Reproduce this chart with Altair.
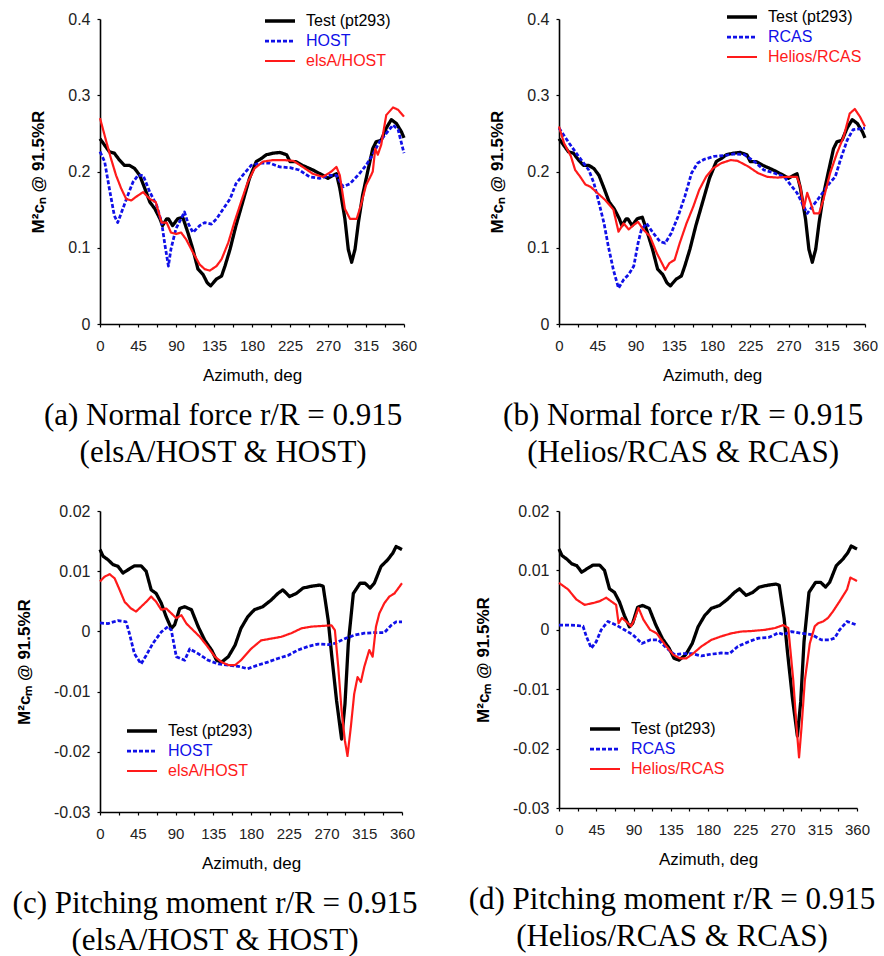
import altair as alt
import pandas as pd

# ---------------- data (azimuth deg, value) ----------------
cn_test = [(0,0.243),(11,0.226),(17,0.224),(23,0.215),(29,0.208),(35,0.208),(41,0.204),(47,0.195),(53,0.178),(59,0.160),(65,0.151),(71,0.138),(74,0.129),(79,0.138),(81,0.138),(86,0.129),(92,0.138),(98,0.140),(104,0.120),(110,0.098),(116,0.072),(122,0.065),(127,0.054),(131,0.050),(138,0.059),(144,0.063),(148,0.076),(154,0.098),(161,0.129),(169,0.160),(177,0.191),(185,0.213),(191,0.217),(197,0.222),(205,0.224),(213,0.225),(221,0.222),(225,0.213),(232,0.213),(240,0.208),(252,0.202),(264,0.195),(270,0.191),(276,0.195),(280,0.197),(284,0.178),(290,0.138),(294,0.098),(298,0.081),(302,0.098),(306,0.133),(311,0.169),(317,0.200),(323,0.230),(327,0.239),(333,0.241),(339,0.257),(345,0.268),(351,0.263),(357,0.252),(360,0.244)]

cn_host = [(0,0.226),(5.5,0.213),(11,0.178),(17,0.142),(21,0.133),(27,0.151),(33,0.169),(39,0.186),(45,0.195),(51,0.195),(59,0.173),(67,0.156),(73,0.133),(77,0.103),(81,0.076),(84,0.098),(90,0.125),(96,0.138),(100,0.147),(104,0.133),(110,0.120),(118,0.129),(124,0.133),(132,0.131),(138,0.138),(146,0.151),(154,0.164),(161,0.184),(169,0.195),(179,0.208),(189,0.211),(201,0.211),(213,0.206),(225,0.205),(236,0.202),(248,0.193),(260,0.191),(272,0.195),(280,0.195),(288,0.180),(296,0.184),(307,0.197),(315,0.208),(323,0.222),(331,0.239),(339,0.250),(347,0.261),(353,0.255),(360,0.224)]

cn_elsa = [(0,0.270),(7.5,0.239),(13,0.217),(19,0.195),(25,0.178),(31,0.164),(37,0.162),(43,0.167),(51,0.173),(59,0.164),(66,0.160),(73,0.133),(79,0.133),(84,0.120),(90,0.118),(96,0.120),(102,0.111),(110,0.094),(118,0.078),(124,0.072),(130,0.070),(138,0.076),(144,0.085),(152,0.107),(159,0.133),(167,0.160),(175,0.186),(183,0.204),(193,0.213),(205,0.215),(217,0.215),(229,0.214),(240,0.206),(252,0.197),(264,0.193),(274,0.200),(280,0.206),(284,0.195),(290,0.151),(296,0.138),(304,0.138),(309,0.156),(315,0.182),(321,0.195),(323,0.200),(326,0.230),(329,0.222),(333,0.235),(339,0.274),(347,0.284),(353,0.281),(360,0.272)]

cn_rcas = [(0,0.257),(12,0.237),(23,0.220),(35,0.202),(41,0.185),(47,0.159),(53,0.132),(58,0.102),(64,0.071),(70,0.047),(76,0.058),(82,0.065),(88,0.076),(93,0.106),(97,0.124),(103,0.132),(111,0.119),(119,0.108),(125,0.106),(132,0.119),(140,0.141),(148,0.167),(156,0.198),(163,0.211),(171,0.216),(183,0.220),(195,0.221),(206,0.223),(218,0.222),(230,0.213),(241,0.202),(253,0.198),(265,0.193),(272,0.183),(280,0.172),(288,0.154),(292,0.145),(298,0.154),(307,0.167),(317,0.183),(325,0.193),(331,0.215),(339,0.241),(346,0.255),(360,0.257)]

cn_helios = [(0,0.259),(6,0.237),(14,0.220),(19,0.202),(25,0.193),(31,0.183),(37,0.180),(45,0.172),(54,0.163),(64,0.150),(70,0.121),(76,0.132),(82,0.124),(88,0.130),(93,0.134),(99,0.124),(107,0.115),(115,0.093),(121,0.080),(125,0.071),(130,0.080),(136,0.084),(142,0.106),(150,0.132),(158,0.154),(165,0.176),(173,0.193),(181,0.204),(191,0.211),(202,0.215),(210,0.214),(222,0.207),(234,0.198),(245,0.193),(257,0.192),(268,0.193),(280,0.193),(284,0.180),(288,0.152),(292,0.172),(296,0.159),(300,0.145),(306,0.145),(311,0.163),(319,0.198),(327,0.224),(335,0.246),(342,0.276),(348,0.282),(354,0.272),(360,0.259)]

cm_test = [(0,0.0136),(3.6,0.0125),(9.5,0.0119),(15.5,0.0111),(21.5,0.0108),(27.4,0.0097),(33,0.0102),(41,0.0109),(49,0.0109),(55,0.0100),(61,0.0069),(67,0.0063),(73,0.0047),(79,0.0024),(85,0.0005),(89,0.0011),(95,0.0038),(101,0.0041),(109,0.0036),(117,0.0008),(125,-0.0015),(133,-0.0031),(139,-0.0048),(145,-0.0051),(153,-0.0042),(161,-0.0023),(168,0.0005),(176,0.0024),(184,0.0036),(194,0.0041),(204,0.0052),(212,0.0063),(218,0.0069),(226,0.0058),(234,0.0063),(242,0.0072),(252,0.0075),(262,0.0077),(266,0.0075),(272,0.0019),(276,-0.0037),(282,-0.0115),(288,-0.0179),(292,-0.0121),(296,-0.0020),(302,0.0063),(310,0.0080),(316,0.0080),(322,0.0072),(327,0.0080),(335,0.0108),(343,0.0119),(349,0.0130),(353,0.0141),(360,0.0136)]

cm_host = [(0,0.0014),(9.5,0.0013),(21.5,0.0018),(31,0.0016),(35,-0.0003),(41,-0.0037),(49,-0.0054),(55,-0.0040),(63,-0.0020),(73,-0.0001),(81,0.0008),(85,0.0002),(91,-0.0042),(101,-0.0048),(107,-0.0029),(117,-0.0037),(129,-0.0048),(141,-0.0054),(153,-0.0056),(165,-0.0058),(176,-0.0062),(188,-0.0056),(200,-0.0051),(212,-0.0045),(224,-0.0040),(236,-0.0031),(248,-0.0025),(260,-0.0021),(272,-0.0022),(280,-0.0020),(292,-0.0012),(304,-0.0006),(315,-0.0003),(327,-0.0002),(339,-0.0002),(347,0.0010),(353,0.0016),(360,0.0016)]

cm_elsa = [(0,0.0083),(5.6,0.0091),(11.5,0.0095),(17.5,0.0088),(23.4,0.0069),(29.4,0.0049),(37,0.0038),(43,0.0033),(49,0.0041),(55,0.0049),(61,0.0058),(67,0.0049),(73,0.0036),(79,0.0038),(85,0.0030),(91,0.0022),(97,0.0027),(103,0.0013),(111,0.0002),(119,-0.0009),(127,-0.0023),(137,-0.0042),(145,-0.0051),(153,-0.0056),(161,-0.0056),(168,-0.0048),(180,-0.0029),(192,-0.0015),(204,-0.0012),(216,-0.0009),(228,-0.0003),(240,0.0005),(252,0.0008),(264,0.0009),(276,0.0010),(280,0.0002),(284,-0.0059),(288,-0.0132),(292,-0.0182),(295,-0.0207),(299,-0.0159),(303,-0.0104),(307,-0.0076),(311,-0.0084),(315,-0.0059),(321,-0.0031),(325,-0.0042),(329,0.0008),(333,0.0030),(339,0.0047),(345,0.0058),(351,0.0063),(360,0.0080)]

cm_rcas = [(0,0.0008),(11,0.0008),(23,0.0007),(29,0.0006),(33,-0.0011),(39,-0.0031),(45,-0.0020),(51,0.0000),(59,0.0014),(69,0.0008),(79,0.0000),(89,-0.0008),(100,-0.0023),(110,-0.0017),(120,-0.0017),(130,-0.0031),(140,-0.0042),(150,-0.0040),(160,-0.0040),(172,-0.0044),(184,-0.0041),(196,-0.0039),(206,-0.0040),(216,-0.0028),(229,-0.0020),(241,-0.0014),(253,-0.0013),(261,-0.0008),(265,-0.0005),(271,-0.0008),(281,-0.0003),(293,-0.0006),(305,-0.0008),(317,-0.0017),(327,-0.0017),(333,-0.0014),(339,0.0000),(348,0.0014),(360,0.0008)]

cm_helios = [(0,0.0079),(11,0.0068),(21,0.0051),(31,0.0042),(41,0.0045),(49,0.0048),(57,0.0054),(63,0.0048),(69,0.0042),(72,0.0011),(76,0.0020),(81,0.0014),(87,0.0006),(91,0.0017),(96,0.0037),(102,0.0017),(110,0.0000),(118,-0.0006),(128,-0.0025),(138,-0.0042),(146,-0.0048),(154,-0.0048),(162,-0.0040),(172,-0.0028),(184,-0.0017),(196,-0.0011),(208,-0.0006),(220,-0.0003),(233,-0.0002),(249,0.0000),(261,0.0003),(271,0.0008),(277,0.0003),(283,-0.0085),(287,-0.0164),(290,-0.0215),(293,-0.0164),(297,-0.0085),(303,-0.0023),(309,0.0006),(313,0.0011),(319,0.0014),(325,0.0020),(331,0.0031),(339,0.0048),(348,0.0068),(352,0.0088),(360,0.0082)]

az_ticks = [i * 22.5 for i in range(17)]
cn_ticks = [0, 0.1, 0.2, 0.3, 0.4]
cm_ticks = [-0.03, -0.02, -0.01, 0, 0.01, 0.02]

BLACK, BLUE, RED = "#000000", "#1010e8", "#ff1a1a"


def frame(series):
    rows = []
    for name, pts in series:
        for a, v in pts:
            rows.append({"az": a, "val": v, "series": name})
    return pd.DataFrame(rows)


def panel(series, ylab, ydom, yticks, yexpr, caption, lx, ly, w, h):
    order = [s[0] for s in series]
    model, coupled = order[1], order[2]
    leg = alt.Legend(
        title=None, orient="none", legendX=lx, legendY=ly,
        symbolType="stroke", symbolSize=900, labelFont="Liberation Sans",
        labelFontSize=16, labelOffset=9, clipHeight=20, rowPadding=0, padding=0,
        labelColor={"expr": f"datum.label == '{model}' ? '{BLUE}' : (datum.label == '{coupled}' ? '{RED}' : '{BLACK}')"},
    )
    axis_common = dict(grid=False, domainColor="black", domainWidth=1.6, tickColor="black",
                       tickWidth=1.2, tickSize=3, labelFont="Liberation Sans",
                       labelColor="#222222", titleFont="Liberation Sans", titleColor="black",
                       titleFontSize=17, labelOverlap=False, labelFlush=False)
    return alt.Chart(frame(series)).mark_line(strokeJoin="round", strokeCap="butt").encode(
        x=alt.X("az:Q", scale=alt.Scale(domain=[0, 360], nice=False),
                axis=alt.Axis(values=az_ticks, title="Azimuth, deg",
                              labelExpr="datum.value % 45 == 0 ? datum.label : ''",
                              labelFontSize=15, labelPadding=11,
                              titleFontWeight="normal", titlePadding=14, **axis_common)),
        y=alt.Y("val:Q", scale=alt.Scale(domain=ydom, nice=False, zero=False),
                axis=alt.Axis(values=yticks, title=ylab, labelExpr=yexpr,
                              labelFontSize=16, labelPadding=7,
                              titleFontWeight="bold", titlePadding=20, **axis_common)),
        color=alt.Color("series:N", scale=alt.Scale(domain=order, range=[BLACK, BLUE, RED]), legend=leg),
        strokeDash=alt.StrokeDash("series:N", scale=alt.Scale(domain=order, range=[[1, 0], [4, 2], [1, 0]]), legend=leg),
        strokeWidth=alt.StrokeWidth("series:N", scale=alt.Scale(domain=order, range=[3.3, 2.2, 2.6]), legend=leg),
    ).properties(
        width=w, height=h,
        title=alt.TitleParams(caption, orient="bottom", frame="bounds", anchor="middle",
                              font="Liberation Serif", fontSize=31, fontWeight="normal",
                              color="black", lineHeight=37, offset=18),
    )


cn_expr = "datum.value == 0 ? '0' : format(datum.value, '.1f')"
cm_expr = "datum.value == 0 ? '0' : (datum.value < 0 ? '-' : '') + format(abs(datum.value), '.2f')"

pa = panel([("Test (pt293)", cn_test), ("HOST", cn_host), ("elsA/HOST", cn_elsa)],
           "M²cₙ @ 91.5%R", [0, 0.4], cn_ticks, cn_expr,
           ["(a) Normal force r/R = 0.915", "(elsA/HOST & HOST)"], 163, -8, 304, 305)
pb = panel([("Test (pt293)", cn_test), ("RCAS", cn_rcas), ("Helios/RCAS", cn_helios)],
           "M²cₙ @ 91.5%R", [0, 0.4], cn_ticks, cn_expr,
           ["(b) Normal force r/R = 0.915", "(Helios/RCAS & RCAS)"], 166, -12, 306, 305)
pc = panel([("Test (pt293)", cm_test), ("HOST", cm_host), ("elsA/HOST", cm_elsa)],
           "M²cₘ @ 91.5%R", [-0.03, 0.02], cm_ticks, cm_expr,
           ["(c) Pitching moment r/R = 0.915", "(elsA/HOST & HOST)"], 25, 210, 302, 301)
pd_ = panel([("Test (pt293)", cm_test), ("RCAS", cm_rcas), ("Helios/RCAS", cm_helios)],
            "M²cₘ @ 91.5%R", [-0.03, 0.02], cm_ticks, cm_expr,
            ["(d) Pitching moment r/R = 0.915", "(Helios/RCAS & RCAS)"], 29, 208, 298, 297)

chart = alt.concat(pa, pb, pc, pd_, columns=2, spacing={"row": 35, "column": 50}).resolve_scale(
    color="independent", strokeDash="independent", strokeWidth="independent", y="independent", x="independent"
).properties(
    padding={"left": 12, "top": 7, "right": 0, "bottom": 0},
    background="white",
).configure_view(stroke=None)

chart.save("out.html", embed_options={"renderer": "svg", "actions": False})
